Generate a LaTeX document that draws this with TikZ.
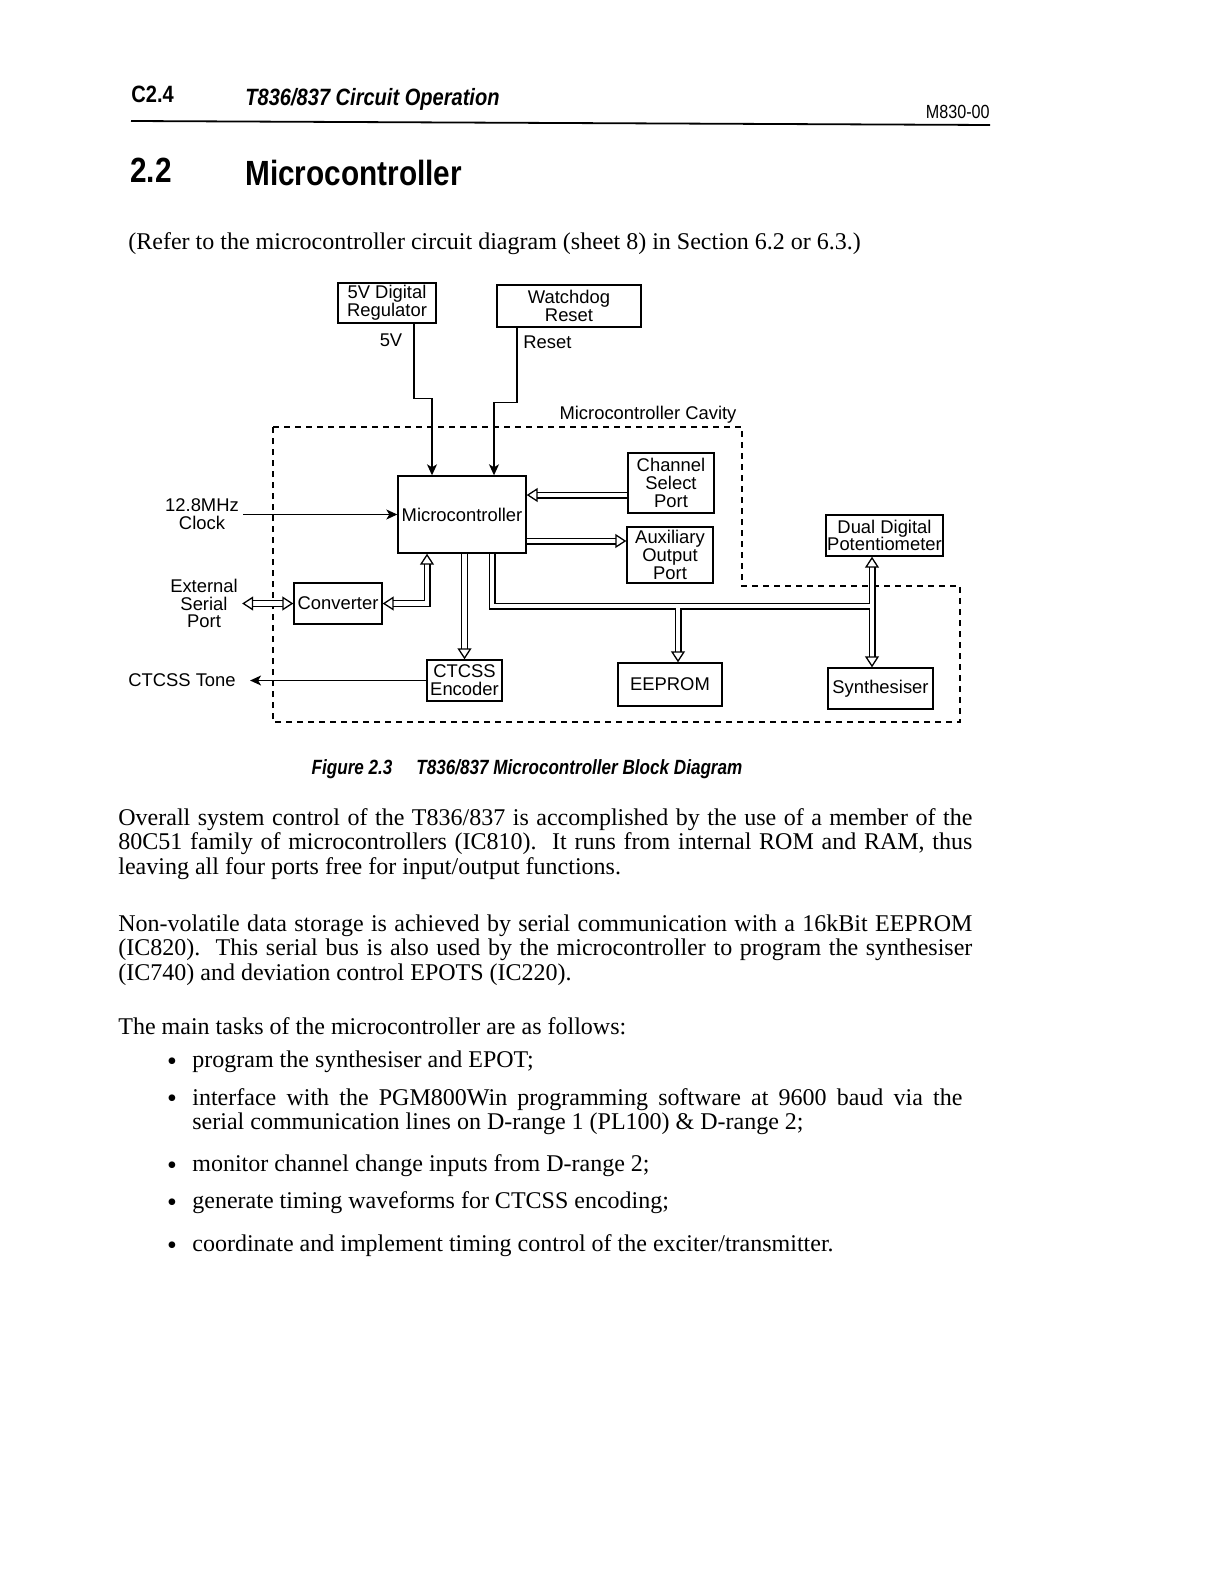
\documentclass[tikz,border=0pt]{standalone}
\usepackage{fontspec}
\setmainfont{Liberation Serif}
\newfontfamily\diagfont{Liberation Sans}
\newfontfamily\headfont[FakeStretch=0.85]{Liberation Sans}
\newfontfamily\capfont[FakeStretch=0.83]{Liberation Sans}
\usetikzlibrary{arrows.meta, positioning}
\def\lw{0.7pt}
\def\busgap{2.3pt}
\newcommand{\bodyfont}{\fontsize{12}{12.25}\selectfont}
\newcommand{\blkfont}{\diagfont\fontsize{9.2}{8.9}\selectfont}
\tikzset{
  blk/.style={draw, line width=\lw, inner sep=0.5pt, align=center, font=\blkfont},
  lbl/.style={inner sep=0pt, align=center, font=\blkfont},
  sig/.style={line width=0.65pt, -{Stealth[length=5.5pt,width=5pt,inset=1.5pt]}},
  bus/.style={double, double distance=\busgap, line width=0.6pt},
  hollow/.tip={Triangle[open,length=5.5pt,width=7pt,line width=0.65pt]},
  busarr/.style={bus, -hollow},
  busboth/.style={bus, hollow-hollow},
  cavity/.style={line width=0.6pt, dash pattern=on 3pt off 2.5pt},
  txt/.style={inner sep=0pt, font=\bodyfont}
}

\begin{document}
\begin{tikzpicture}[x=0.5pt, y=-0.5pt]
\useasboundingbox[fill=white] (0,0) rectangle (1221,1584);

% page header
\node[anchor=west, inner sep=0pt, font=\headfont\bfseries\fontsize{11.8}{12}\selectfont] (secno) at (131,94) {C2.4};
\node[anchor=west, inner sep=0pt, font=\headfont\bfseries\itshape\fontsize{11.8}{12}\selectfont] (hdtitle) at (245,99) {T836/837 Circuit Operation};
\node[anchor=east, inner sep=0pt, font=\headfont\fontsize{9.5}{10}\selectfont] (docno) at (990,112) {M830-00};
\draw[line width=0.9pt] (131,121) -- (990,125);

% section heading
\node[anchor=west, inner sep=0pt, font=\headfont\bfseries\fontsize{17.5}{18}\selectfont] (secnum) at (130,170) {2.2};
\node[anchor=west, inner sep=0pt, font=\headfont\bfseries\fontsize{17.5}{18}\selectfont] (sectitle) at (245,173) {Microcontroller};
\node[txt, anchor=west] (refer) at (128,244) {(Refer to the microcontroller circuit diagram (sheet 8) in Section 6.2 or 6.3.)};

% blocks
\node[blk, minimum width=49pt, minimum height=20pt] (reg) at (387,303) {5V Digital\\Regulator};
\node[blk, minimum width=72pt, minimum height=21pt] (wdog) at (569,306) {Watchdog\\Reset};
\node[blk, minimum width=64pt, minimum height=38.5pt] (mcu) at (462,514.5) {Microcontroller};
\node[blk, minimum width=43pt, minimum height=30pt] (chan) at (671,483) {Channel\\Select\\Port};
\node[blk, minimum width=43pt, minimum height=28pt] (aux) at (670,555) {Auxiliary\\Output\\Port};
\node[blk, minimum width=44pt, minimum height=20.5pt] (conv) at (338,603.5) {Converter};
\node[blk, minimum width=37.5pt, minimum height=20.5pt] (ctcss) at (464.5,680.5) {CTCSS\\Encoder};
\node[blk, minimum width=52pt, minimum height=21.5pt] (eeprom) at (670,684.5) {EEPROM};
\node[blk, minimum width=58.5pt, minimum height=20.5pt] (pot) at (884.5,535.5) {Dual Digital\\Potentiometer};
\node[blk, minimum width=52.5pt, minimum height=20.5pt] (synth) at (880.5,688.5) {Synthesiser};

% labels
\node[lbl] (l5v) at (391,340) {5V};
\node[lbl, anchor=west] (lreset) at (523,342) {Reset};
\node[lbl] (lcav) at (648,415) {Microcontroller Cavity};
\node[lbl] (lclk) at (202,514.5) {12.8MHz\\Clock};
\node[lbl] (lext) at (204,603.5) {External\\Serial\\Port};
\node[lbl] (ltone) at (182,680.5) {CTCSS Tone};
\coordinate (busj) at (872,606);

% cavity outline
\draw[cavity] (273,427) -- (742,427) -- (742,586) -- (960,586) -- (960,722) -- (273,722) -- cycle;

% single signals
\draw[sig] ([xshift=13.5pt]reg.south) -- ++(0,75) -| ([xshift=-15pt]mcu.north);
\draw[sig] ([xshift=-26pt]wdog.south) -- ++(0,75) -| ([xshift=16pt]mcu.north);
\draw[sig] ([xshift=2pt]lclk.east) -- (mcu.west);
\draw[sig] (ctcss.west) -- ([xshift=7pt]ltone.east);

% buses
\draw[busarr] ([yshift=-6pt]chan.west) -- ([yshift=-6pt]chan.west -| mcu.east);
\draw[busarr] ([yshift=7pt]aux.west -| mcu.east) -- ([yshift=7pt]aux.west);
\draw[busboth] ([xshift=2pt]lext.east) -- (conv.west);
\draw[busboth] (conv.east) -| ([xshift=-17.5pt]mcu.south);
\draw[busarr] (ctcss.north |- mcu.south) -- (ctcss.north);
\draw[busboth] (busj |- pot.south) -- (busj |- synth.north);
\draw[bus] ([xshift=15pt]mcu.south) |- ([xshift=-1.15pt]busj);
\draw[busarr] ([xshift=4pt,yshift=-1.15pt]eeprom.north |- busj) -- ([xshift=4pt]eeprom.north);

% caption and body text
\node[inner sep=0pt, font=\capfont\bfseries\itshape\fontsize{10.3}{11}\selectfont] (caption) at (527,769) {Figure 2.3\hspace{12pt}T836/837 Microcontroller Block Diagram};
\node[txt, anchor=north west, text width=427pt, align=justify] (para1) at (118,808) {Overall system control of the T836/837 is accomplished by the use of a member of the\linebreak 80C51 family of microcontrollers (IC810).\ \ It runs from internal ROM and RAM, thus\linebreak leaving all four ports free for input/output functions.};
\node[txt, anchor=north west, text width=427pt, align=justify] (para2) at (118,914) {Non-volatile data storage is achieved by serial communication with a 16kBit EEPROM\linebreak (IC820).\ \ This serial bus is also used by the microcontroller to program the synthesiser\linebreak (IC740) and deviation control EPOTS (IC220).};
\node[txt, anchor=north west] (tasks) at (118,1017) {The main tasks of the microcontroller are as follows:};

% bullet list
\foreach \y/\name in {1064/b1, 1101/b2, 1168/b3, 1205/b4, 1248/b5}
  \node[txt, font=\fontsize{14}{14}\selectfont] (\name dot) at (172,\y) {\textbullet};
\node[txt, anchor=west] (b1) at (192,1062) {program the synthesiser and EPOT;};
\node[txt, anchor=north west, text width=385pt, align=justify] (b2) at (192,1088) {interface with the PGM800Win programming software at 9600 baud via the\linebreak serial communication lines on D-range 1 (PL100) \& D-range 2;};
\node[txt, anchor=west] (b3) at (192,1166) {monitor channel change inputs from D-range 2;};
\node[txt, anchor=west] (b4) at (192,1203) {generate timing waveforms for CTCSS encoding;};
\node[txt, anchor=west] (b5) at (192,1246) {coordinate and implement timing control of the exciter/transmitter.};
\end{tikzpicture}
\end{document}
